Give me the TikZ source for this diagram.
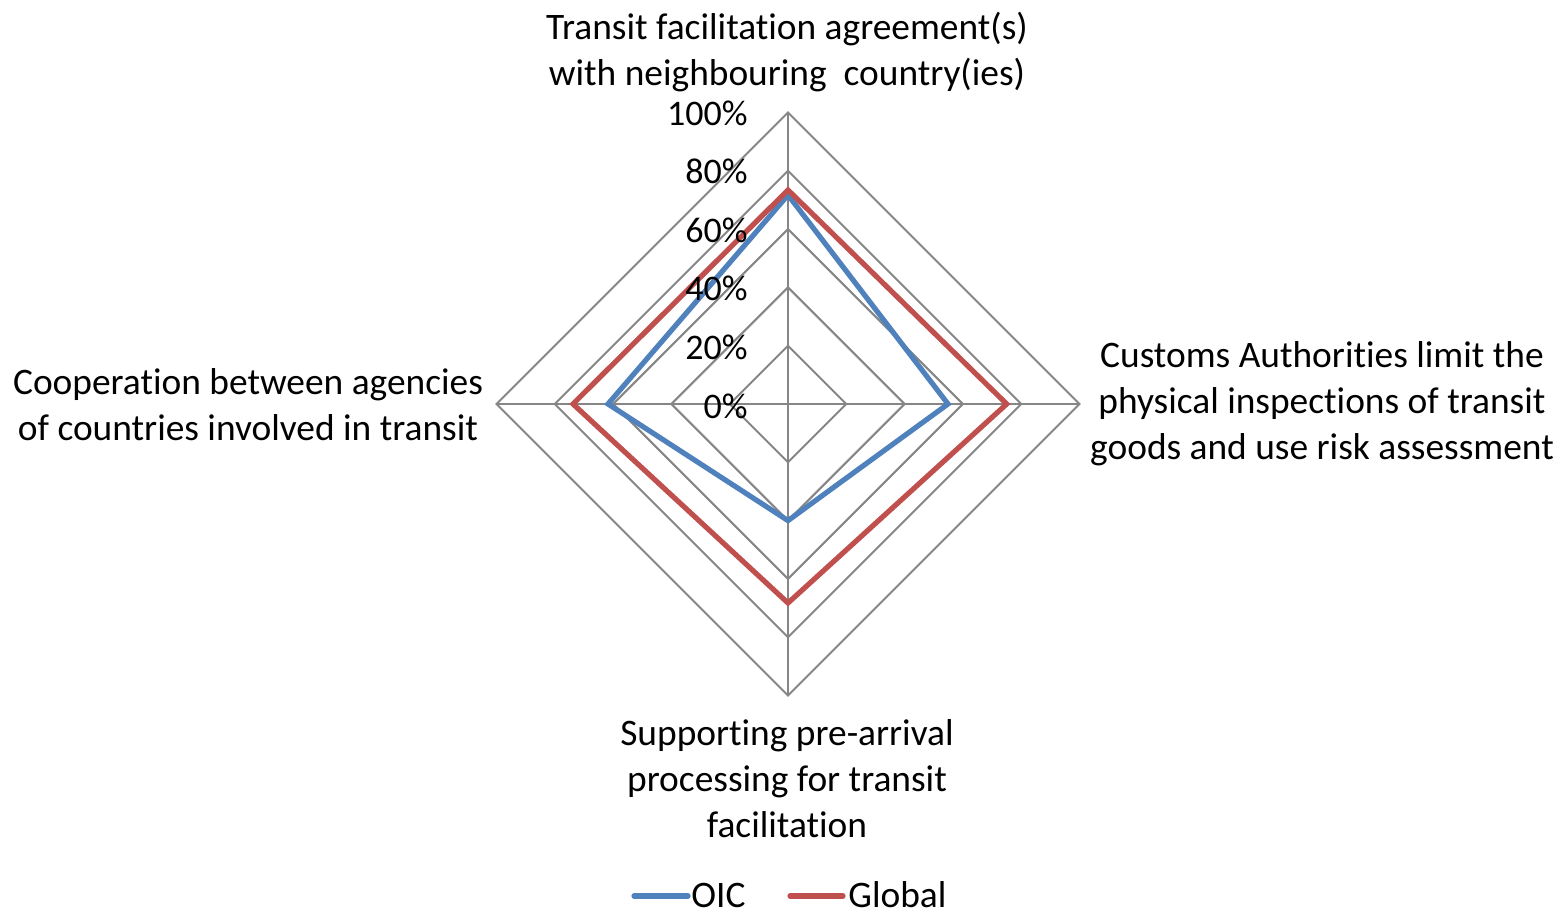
\documentclass[tikz,border=0pt]{standalone}
\usepackage{fontspec}
\setmainfont[Ligatures=NoCommon]{Carlito}
\definecolor{oicblue}{HTML}{4F81BD}
\definecolor{globred}{HTML}{C0504D}
\definecolor{gridgray}{HTML}{868686}
\begin{document}
\begin{tikzpicture}[x=0.5pt,y=-0.5pt,
  every node/.style={font=\fontsize{18.7}{23}\selectfont, inner sep=0pt, text=black},
  gridline/.style={draw=gridgray, line width=1pt},
  oic/.style={draw=oicblue, line width=2.6pt, line join=miter},
  glob/.style={draw=globred, line width=2.6pt, line join=miter},
  legline/.style={line width=2.6pt, line cap=round},
  ticklabel/.style={anchor=east, font=\fontsize{18}{23}\selectfont},
  axislabel/.style={align=center}]
\useasboundingbox (0,0) rectangle (1559,909);
\coordinate (c) at (788,404);
% grid diamonds
\foreach \r in {58.3,116.6,174.9,233.2,291.5}{
  \draw[gridline] (788,404-\r) -- (788+\r,404) -- (788,404+\r) -- (788-\r,404) -- cycle;
}
\coordinate (t) at (788,112.5);
\coordinate (r) at (1079.5,404);
\coordinate (b) at (788,695.5);
\coordinate (l) at (496.5,404);
\draw[gridline] (t) -- (b);
\draw[gridline] (l) -- (r);
% data
\draw[oic] (788,195) -- (948,404) -- (788,520.6) -- (608,404) -- cycle;
\draw[glob] (788,190) -- (1006.7,404) -- (788,603) -- (573,404) -- cycle;
% tick labels
\node[ticklabel] (p100) at (748,113) {100\%};
\node[ticklabel] (p80) at (748,171.5) {80\%};
\node[ticklabel] (p60) at (748,230) {60\%};
\node[ticklabel] (p40) at (748,288.5) {40\%};
\node[ticklabel] (p20) at (748,347) {20\%};
\node[ticklabel] (p0) at (748,406) {0\%};
% axis labels
\node[axislabel] (lt) at (787,52) {Transit facilitation agreement(s)\\with neighbouring\ \ country(ies)};
\node[axislabel] (lr) at (1322,404) {Customs Authorities limit the\\physical inspections of transit\\goods and use risk assessment};
\node[axislabel] (lb) at (787,779) {Supporting pre-arrival\\processing for transit\\facilitation};
\node[axislabel] (ll) at (248,405) {Cooperation between agencies\\of countries involved in transit};
% legend
\coordinate (la1) at (634,896);
\coordinate (la2) at (688,896);
\draw[legline, draw=oicblue] (la1) -- (la2);
\node[anchor=base west] (loic) at (691,907) {OIC};
\coordinate (lb1) at (790,896);
\coordinate (lb2) at (843,896);
\draw[legline, draw=globred] (lb1) -- (lb2);
\node[anchor=base west] (lglob) at (848,907) {Global};
\end{tikzpicture}
\end{document}
